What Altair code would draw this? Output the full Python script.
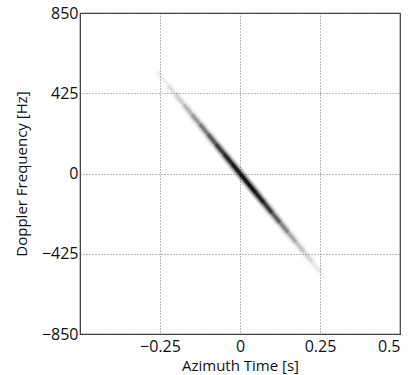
import altair as alt
import pandas as pd

# Samples read along the chirp band (azimuth time [s], Doppler frequency [Hz], darkness 0..1)
t_pts = [-0.26, -0.225, -0.2, -0.175, -0.15, -0.125, -0.1, -0.075, -0.05, -0.025,
         0.0, 0.025, 0.05, 0.075, 0.1, 0.125, 0.15, 0.175, 0.2, 0.225, 0.25, 0.27]
f_pts = [541, 468, 416, 364, 312, 260, 208, 156, 104, 52,
         0, -52, -104, -156, -208, -260, -312, -364, -416, -468, -520, -560]
shade = [0.02, 0.06, 0.1, 0.16, 0.25, 0.35, 0.48, 0.62, 0.78, 0.9,
         0.97, 1.0, 0.95, 0.82, 0.62, 0.45, 0.3, 0.2, 0.13, 0.08, 0.04, 0.01]

x_ticks = [-0.25, 0, 0.25, 0.5]
y_ticks = [-850, -425, 0, 425, 850]

rows = []
for i in range(len(t_pts) - 1):
    rows.append({
        "t": t_pts[i], "t2": t_pts[i + 1],
        "f": f_pts[i], "f2": f_pts[i + 1],
        "s": (shade[i] + shade[i + 1]) / 2,
    })
df = pd.DataFrame(rows)

FONT = "Open Sans"

xs = alt.Scale(domain=[-0.5, 0.5], nice=False, zero=False)
ys = alt.Scale(domain=[-850, 850], nice=False, zero=False)

base = alt.Chart(df)

def band(width, maxop):
    return base.mark_rule(strokeWidth=width, strokeCap="butt", color="black").encode(
        x=alt.X("t:Q", scale=xs,
                axis=alt.Axis(values=x_ticks, format=".2~f", title="Azimuth Time [s]")),
        x2="t2:Q",
        y=alt.Y("f:Q", scale=ys,
                axis=alt.Axis(values=y_ticks, format="d", title="Doppler Frequency [Hz]")),
        y2="f2:Q",
        opacity=alt.Opacity("s:Q", scale=alt.Scale(domain=[0, 1], range=[0, maxop]), legend=None),
    )

chart = alt.layer(
    band(10, 0.2),
    band(6.5, 0.4),
    band(3.5, 0.85),
).resolve_scale(
    opacity="independent"
).properties(
    width=320, height=321,
    autosize=alt.AutoSizeParams(type="none"),
    padding={"left": 80, "top": 13, "right": 14, "bottom": 41},
).configure_view(
    stroke="#333333", strokeWidth=1.2
).configure_axis(
    domain=False, ticks=False,
    grid=True, gridColor="#666666", gridDash=[1, 2], gridWidth=1, gridOpacity=0.9,
    labelFont=FONT, labelFontSize=16, labelColor="#111111",
    titleFont=FONT, titleFontSize=15, titleFontWeight="normal", titleColor="#111111",
).configure_axisX(
    labelPadding=4, titlePadding=4,
).configure_axisY(
    labelPadding=2, titlePadding=12,
)

chart.save("out.html", embed_options={"renderer": "svg", "actions": False})
